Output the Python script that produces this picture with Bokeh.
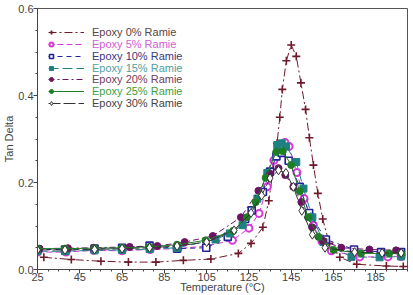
from bokeh.plotting import figure
from bokeh.models import (Range1d, FixedTicker, NumeralTickFormatter, Legend, LegendItem)
from bokeh.embed import file_html
from bokeh.resources import INLINE

# Tan delta vs temperature for epoxy / ramie composites
labels = ["Epoxy 0% Ramie", "Epoxy 5% Ramie", "Epoxy 10% Ramie", "Epoxy 15% Ramie",
          "Epoxy 20% Ramie", "Epoxy 25% Ramie", "Epoxy 30% Ramie"]

t_0 = [28, 41, 55, 68, 81, 94, 107, 120, 126, 131.6, 134.4, 136.5, 138.3, 139.6, 140.8, 142.7, 145,
       147.4, 149.6, 151.8, 153.6, 155.5, 157.6, 159.9, 163, 168, 176, 190, 198]
tan_0 = [0.028, 0.023, 0.019, 0.017, 0.017, 0.021, 0.024, 0.037, 0.06, 0.097, 0.158, 0.23, 0.29, 0.35,
         0.414, 0.48, 0.516, 0.49, 0.429, 0.368, 0.303, 0.24, 0.175, 0.116, 0.06, 0.028, 0.012, 0.008, 0.007]

t_5 = [25, 38.5, 51.7, 65, 78.3, 91.4, 104.8, 117.2, 125, 129.8, 133.7, 136.8, 139.5, 142, 144,
       147.7, 151.1, 155.5, 159.5, 164, 177.4, 190.7, 197]
tan_5 = [0.040, 0.040, 0.044, 0.043, 0.046, 0.048, 0.054, 0.067, 0.095, 0.129, 0.19, 0.251, 0.283, 0.292,
         0.283, 0.223, 0.163, 0.102, 0.065, 0.043, 0.029, 0.029, 0.03]

t_10 = [25, 38, 52, 65, 78, 91, 104.8, 115, 123.2, 126.3, 131.6, 135, 138, 140.5, 143.8, 149, 153.5,
        161.4, 174.7, 187.5, 197]
tan_10 = [0.046, 0.046, 0.048, 0.05, 0.055, 0.048, 0.05, 0.075, 0.116, 0.136, 0.178, 0.225, 0.26,
          0.268, 0.25, 0.19, 0.13, 0.069, 0.046, 0.04, 0.04]

t_15 = [25, 38, 52, 65, 78, 91, 109.2, 116, 122, 129, 133.7, 138.4, 140.5, 142.5, 147.4, 150.8, 155,
        160.3, 173.5, 186.8, 197]
tan_15 = [0.042, 0.042, 0.044, 0.045, 0.047, 0.05, 0.069, 0.083, 0.102, 0.163, 0.222, 0.286, 0.29,
          0.283, 0.247, 0.186, 0.12, 0.063, 0.029, 0.028, 0.03]

t_20 = [26, 39.4, 51.7, 68.6, 81.7, 94.6, 107.9, 121.2, 129.5, 135, 139, 142.2, 146, 149.8, 154.9,
        160, 168.7, 182, 194.6]
tan_20 = [0.048, 0.049, 0.05, 0.052, 0.054, 0.063, 0.077, 0.12, 0.181, 0.22, 0.233, 0.217, 0.19,
          0.155, 0.097, 0.066, 0.05, 0.046, 0.044]

t_25 = [25, 38, 52, 65, 78, 91, 104.5, 117.6, 124, 128.2, 132.9, 137.9, 141, 145, 149, 153, 158,
        165, 178, 191.3, 197]
tan_25 = [0.048, 0.048, 0.049, 0.05, 0.052, 0.057, 0.067, 0.089, 0.12, 0.155, 0.211, 0.27, 0.272,
          0.24, 0.18, 0.12, 0.075, 0.045, 0.037, 0.037, 0.037]

t_30 = [25, 38, 52, 65, 78, 91, 105, 118, 126, 131, 135, 139, 142.5, 146, 150, 155, 161, 175, 188, 197]
tan_30 = [0.045, 0.045, 0.046, 0.048, 0.05, 0.054, 0.063, 0.09, 0.13, 0.17, 0.21, 0.228, 0.222, 0.19,
          0.135, 0.08, 0.05, 0.04, 0.038, 0.038]

x_ticks = [25, 45, 65, 85, 105, 125, 145, 165, 185]
y_ticks = [0.0, 0.2, 0.4, 0.6]

temps = [t_0, t_5, t_10, t_15, t_20, t_25, t_30]
tans = [tan_0, tan_5, tan_10, tan_15, tan_20, tan_25, tan_30]

# style of each series: colour, label colour, dash, marker, size, fill, marker line width
styles = [
    dict(color="#6e1a2a", text="#5a4444", dash="8 3 2 3", marker="cross", size=8, fill="#6e1a2a", mlw=1.6),
    dict(color="#d838d8", text="#d060d0", dash="6 3", marker="circle", size=7, fill="white", mlw=2.0),
    dict(color="#22229a", text="#383880", dash="5 4", marker="square", size=7, fill="white", mlw=1.6),
    dict(color="#1f8080", text="#50a0a0", dash="10 4", marker="square", size=7, fill="#1f8080", mlw=1.0),
    dict(color="#6c1462", text="#704060", dash="6 3 2 3", marker="circle", size=7, fill="#6c1462", mlw=1.0),
    dict(color="#1e7e26", text="#40a040", dash="solid", marker="circle", size=7, fill="#1e7e26", mlw=1.0),
    dict(color="#333333", text="#444444", dash="12 3", marker="diamond", size=9, fill="white", mlw=1.0),
]

font = "Liberation Sans"

p = figure(width=413, height=295, output_backend="svg", toolbar_location=None,
           x_range=Range1d(25, 200), y_range=Range1d(0, 0.6),
           min_border_left=33, min_border_right=6, min_border_top=8, min_border_bottom=26)
p.background_fill_color = "white"
p.border_fill_color = "white"
p.outline_line_color = "#555555"
p.outline_line_width = 1
p.xgrid.visible = False
p.ygrid.visible = False

p.xaxis.ticker = FixedTicker(ticks=x_ticks, minor_ticks=list(range(25, 201, 5)))
p.yaxis.ticker = FixedTicker(ticks=y_ticks, minor_ticks=[i * 0.05 for i in range(13)])
p.yaxis.formatter = NumeralTickFormatter(format="0.0")
p.xaxis.axis_label = "Temperature (°C)"
p.yaxis.axis_label = "Tan Delta"
for ax in (p.xaxis, p.yaxis):
    ax.axis_line_color = "#444444"
    ax.major_tick_line_color = "#444444"
    ax.minor_tick_line_color = "#444444"
    ax.major_tick_in = 0
    ax.major_tick_out = 4
    ax.minor_tick_in = 0
    ax.minor_tick_out = 2
    ax.major_label_text_font = font
    ax.major_label_text_font_size = "11px"
    ax.major_label_text_color = "#444444"
    ax.axis_label_text_font = font
    ax.axis_label_text_font_size = "11px"
    ax.axis_label_text_font_style = "normal"
    ax.axis_label_text_color = "#444444"
p.yaxis.major_label_standoff = 0
p.yaxis.axis_label_standoff = 0
p.xaxis.major_label_standoff = -1
p.xaxis.axis_label_standoff = -3

line_rs, mark_rs = [], []
for t, v, st in zip(temps, tans, styles):
    lr = p.line(t, v, line_color=st["color"], line_width=1, line_dash=st["dash"])
    mr = p.scatter(t, v, marker=st["marker"], size=st["size"], line_color=st["color"],
                   fill_color=st["fill"], line_width=st["mlw"])
    line_rs.append(lr)
    mark_rs.append(mr)

# one small legend per entry so each label keeps its series colour
frame_h = 261.3
for i, (lab, st) in enumerate(zip(labels, styles)):
    center = 24.5 + 11.8 * i
    y0 = frame_h - (center + 6)
    leg_line = Legend(items=[LegendItem(label=lab, renderers=[line_rs[i]])],
                      location=(11, y0), glyph_width=36, glyph_height=12, label_height=12,
                      label_standoff=8, padding=0, margin=0, spacing=0,
                      background_fill_alpha=0, border_line_alpha=0,
                      label_text_font=font, label_text_font_size="11px",
                      label_text_color=st["text"])
    leg_mark = Legend(items=[LegendItem(label=" ", renderers=[mark_rs[i]])],
                      location=(9, y0), glyph_width=10, glyph_height=12, label_height=12,
                      label_standoff=0, padding=0, margin=0, spacing=0,
                      background_fill_alpha=0, border_line_alpha=0,
                      label_text_font_size="1px")
    p.add_layout(leg_line)
    p.add_layout(leg_mark)

open("out.html", "w").write(file_html(p, INLINE))
